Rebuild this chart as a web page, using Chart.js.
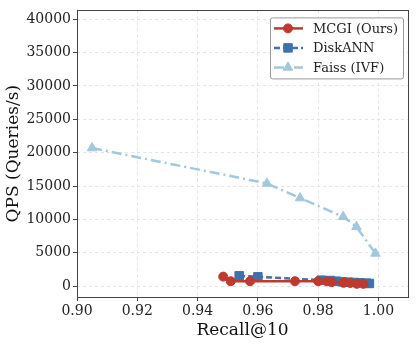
<!DOCTYPE html>
<html lang="en">
<head>
<meta charset="UTF-8">
<title>QPS vs Recall@10</title>
<script src="https://cdn.jsdelivr.net/npm/chart.js"></script>
<style>
  body { margin: 0; background: #fff; }
  canvas { display: block; }
</style>
</head>
<body>
<canvas id="qpsChart" width="416" height="344"></canvas>
<script>
  // recall / throughput pairs per method
  const mcgiRecall = [0.9485, 0.951, 0.9574, 0.9723, 0.980, 0.9829, 0.9845, 0.9884, 0.9906, 0.9928, 0.995];
  const mcgiQps = [1430, 740, 740, 740, 740, 720, 600, 500, 480, 350, 350];

  const diskRecall = [0.9538, 0.960, 0.981, 0.984, 0.986, 0.988, 0.990, 0.992, 0.994, 0.996, 0.997];
  const diskQps = [1550, 1400, 900, 850, 750, 650, 600, 550, 500, 450, 400];

  const faissRecall = [0.905, 0.963, 0.974, 0.9883, 0.9927, 0.999];
  const faissQps = [20700, 15400, 13200, 10400, 8900, 4900];

  const xTicks = [0.90, 0.92, 0.94, 0.96, 0.98, 1.00];
  const yTicks = [0, 5000, 10000, 15000, 20000, 25000, 30000, 35000, 40000];

  const RED = '#c0392f', BLUE = '#3e71ae', LIGHT = '#a2c8dc';
  const SERIF = '"DejaVu Serif", serif';

  const toPoints = (xs, ys) => xs.map((x, i) => ({ x: x, y: ys[i] }));

  const series = [
    { label: 'MCGI (Ours)', data: toPoints(mcgiRecall, mcgiQps), color: RED, style: 'circle', radius: 4.5, dash: [] },
    { label: 'DiskANN', data: toPoints(diskRecall, diskQps), color: BLUE, style: 'rect', radius: 6, dash: [6, 3] },
    { label: 'Faiss (IVF)', data: toPoints(faissRecall, faissQps), color: LIGHT, style: 'triangle', radius: 5.5, dash: [10, 4, 2, 4] }
  ];

  // frame around the plot area, like plot spines
  const frame = {
    id: 'frame',
    afterDatasetsDraw(chart) {
      const a = chart.chartArea, ctx = chart.ctx;
      ctx.save();
      ctx.strokeStyle = '#444';
      ctx.lineWidth = 1;
      ctx.strokeRect(Math.round(a.left) + 0.5, Math.round(a.top) + 0.5,
        Math.round(a.right - a.left), Math.round(a.bottom - a.top));
      ctx.restore();
    }
  };

  // boxed legend with line + marker samples
  const legendBox = {
    id: 'legendBox',
    afterDraw(chart) {
      const ctx = chart.ctx, a = chart.chartArea;
      const x = a.right - 138, y = a.top + 7, w = 133, h = 61;
      ctx.save();
      ctx.fillStyle = 'rgba(255,255,255,0.9)';
      ctx.strokeStyle = '#999';
      ctx.lineWidth = 1;
      ctx.beginPath();
      ctx.roundRect(x + 0.5, y + 0.5, w, h, 2);
      ctx.fill();
      ctx.stroke();
      series.forEach((s, i) => {
        const ry = y + 11 + i * 19.5;
        ctx.strokeStyle = s.color;
        ctx.lineWidth = 2.5;
        ctx.setLineDash(s.dash);
        ctx.beginPath();
        ctx.moveTo(x + 4, ry);
        ctx.lineTo(x + 33, ry);
        ctx.stroke();
        ctx.setLineDash([]);
        ctx.fillStyle = s.color;
        ctx.strokeStyle = s.color;
        ctx.lineWidth = 1;
        Chart.helpers.drawPoint(ctx, { pointStyle: s.style, radius: s.radius, rotation: 0, borderWidth: 1 }, x + 18, ry);
        ctx.fillStyle = '#222';
        ctx.font = '13px ' + SERIF;
        ctx.textBaseline = 'middle';
        ctx.fillText(s.label, x + 43, ry + 1);
      });
      ctx.restore();
    }
  };

  new Chart(document.getElementById('qpsChart'), {
    type: 'line',
    data: {
      datasets: series.map(s => ({
        label: s.label,
        data: s.data,
        borderColor: s.color,
        backgroundColor: s.color,
        borderWidth: 2.5,
        borderDash: s.dash,
        pointStyle: s.style,
        pointRadius: s.radius,
        pointBackgroundColor: s.color,
        pointBorderColor: s.color,
        pointBorderWidth: 1,
        tension: 0,
        fill: false
      }))
    },
    options: {
      responsive: false,
      animation: false,
      layout: { padding: { top: 6, right: 8, left: 0, bottom: 0 } },
      plugins: { legend: { display: false }, tooltip: { enabled: false } },
      scales: {
        x: {
          type: 'linear',
          min: 0.90,
          max: 1.0098,
          afterBuildTicks: axis => { axis.ticks = xTicks.map(v => ({ value: v })); },
          afterFit: axis => { axis.height = 47; },
          ticks: {
            font: { family: SERIF, size: 14 },
            color: '#222',
            padding: 2,
            maxRotation: 0,
            callback: v => v.toFixed(2)
          },
          grid: { color: '#e4e4e4', tickColor: '#444', tickLength: 4, tickWidth: 1 },
          border: { display: false, dash: [3, 3] },
          title: { display: true, text: 'Recall@10', font: { family: SERIF, size: 17 }, color: '#111', padding: { top: 0, bottom: 3 } }
        },
        y: {
          type: 'linear',
          min: -1625,
          max: 41330,
          afterBuildTicks: axis => { axis.ticks = yTicks.map(v => ({ value: v })); },
          afterFit: axis => { axis.width = 77; },
          ticks: {
            font: { family: SERIF, size: 14 },
            color: '#222',
            padding: 2,
            callback: v => String(v)
          },
          grid: { color: '#e4e4e4', tickColor: '#444', tickLength: 4, tickWidth: 1 },
          border: { display: false, dash: [3, 3] },
          title: { display: true, text: 'QPS (Queries/s)', font: { family: SERIF, size: 17 }, color: '#111', padding: { top: 3, bottom: 0 } }
        }
      }
    },
    plugins: [frame, legendBox]
  });
</script>
</body>
</html>
